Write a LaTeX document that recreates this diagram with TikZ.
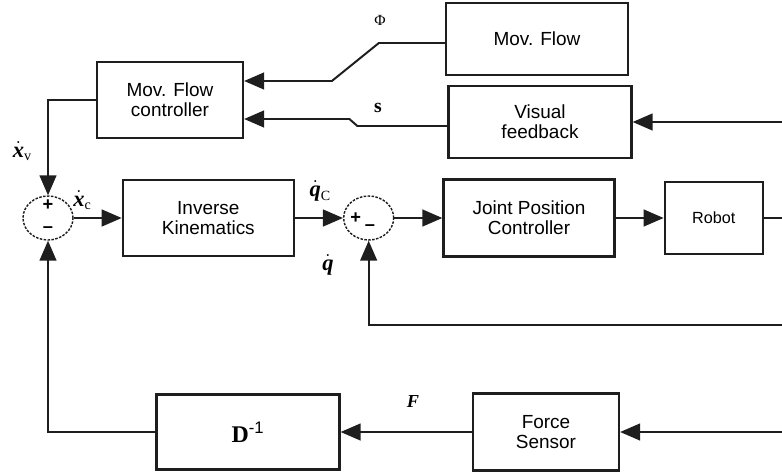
\documentclass[tikz,border=0pt]{standalone}
\usepackage{fontspec}
\setmainfont{Liberation Serif}
\setsansfont{Liberation Sans}
\usepackage{tikz}
\usetikzlibrary{arrows.meta,positioning,shapes.geometric}
\definecolor{ink}{RGB}{30,30,30}
\tikzset{
  blk/.style={draw=ink,line width=1.6pt,fill=white,inner sep=2pt,align=center,
    font=\sffamily\fontsize{13.5}{14.5}\selectfont},
  sumpt/.style={ellipse,draw=ink,line width=1pt,dash pattern=on 1.8pt off 1pt,
    minimum width=12.5mm,minimum height=11mm,inner sep=0pt},
  sgn/.style={inner sep=0pt,font=\sffamily\bfseries\fontsize{13}{13}\selectfont},
  arr/.style={-{Triangle[length=5mm,width=4.2mm]},line width=1.4pt,ink},
  wire/.style={line width=1.4pt,ink},
  sig/.style={inner sep=0pt,font=\bfseries\itshape\fontsize{16}{16}\selectfont},
}
% dotted signal name with an upright index
\newcommand{\dsig}[2]{$\dot{\mbox{#1}}$\raisebox{-0.35ex}{\mdseries\upshape\fontsize{10}{10}\selectfont #2}}

\begin{document}
\begin{tikzpicture}[x=0.25mm,y=-0.25mm,node distance=12mm]
  \useasboundingbox (0,0) rectangle (782,472);
  % main loop
  \node[sumpt] (s1) at (48,218) {};
  \node[blk,minimum width=42.75mm,minimum height=19mm,right=of s1] (ik) {Inverse\\Kinematics};
  \node[sumpt,right=of ik] (s2) {};
  \node[blk,minimum width=42.75mm,minimum height=19.25mm,right=of s2] (jpc) {Joint Position\\Controller};
  \node[blk,minimum width=24.5mm,minimum height=18mm,right=of jpc,
    font=\sffamily\fontsize{11.5}{13}\selectfont] (rob) {Robot};
  % visual branch
  \node[blk,minimum width=36.5mm,minimum height=19mm] (mfc) at (170,100) {Mov. Flow\\controller};
  \node[blk,minimum width=45.5mm,minimum height=18mm] (mf) at (537,39) {Mov. Flow};
  \node[blk,minimum width=45.75mm,minimum height=18mm] (vis) at (540,122) {Visual\\feedback};
  % force branch
  \node[blk,minimum width=45.75mm,minimum height=18.75mm] (dinv) at (248,432)
    {\rmfamily\bfseries\fontsize{17}{17}\selectfont D\textsuperscript{\sffamily\mdseries -1}};
  \node[blk,minimum width=36.5mm,minimum height=19.25mm] (fs) at (546,432) {Force\\Sensor};

  % signs in the summing points
  \node[sgn] (s1p) at ([yshift=3.25mm]s1.center) {+};
  \node[sgn] (s1m) at ([yshift=-3mm]s1.center) {\textendash};
  \node[sgn] (s2p) at ([xshift=-3.25mm]s2.center) {+};
  \node[sgn] (s2m) at ([xshift=0.3mm,yshift=-2.5mm]s2.center) {\textendash};

  % loose ends at the right margin
  \coordinate (outR) at (782,218);
  \coordinate (visIn) at (782,122);
  \coordinate (qFb) at (782,325);
  \coordinate (fIn) at (782,432);

  \draw[arr] (s1) -- (ik);
  \draw[arr] (ik) -- (s2);
  \draw[arr] (s2) -- (jpc);
  \draw[arr] (jpc) -- (rob);
  \draw[wire] (rob) -- (outR);
  \draw[arr] (qFb) -| (s2.south);
  \draw[arr] (visIn) -- (vis);
  \draw[arr] ([yshift=-1mm]mf.west) -- ++(-66,0) -- ++(-47,38) -- ([yshift=4.75mm]mfc.east);
  \draw[arr] ([yshift=-1mm]vis.west) -- ++(-90,0) -- ++(-8,-7) -- ([yshift=-4.75mm]mfc.east);
  \draw[arr] (mfc.west) -| (s1.north);
  \draw[arr] (fIn) -- (fs);
  \draw[arr] (fs) -- (dinv);
  \draw[arr] (dinv.west) -| (s1.south);

  % signal labels
  \node[sig] (xv) at (22,151) {\dsig{x}{v}};
  \node[sig] (xc) at (82,200) {\dsig{x}{c}};
  \node[sig] (qc) at (320,191) {\dsig{q}{C}};
  \node[sig] (qd) at (328,265) {$\dot{\mbox{q}}$};
  \node[sig,font=\bfseries\itshape\fontsize{13}{13}\selectfont] (fl) at (413,402) {F};
  \node[inner sep=0pt,font=\fontsize{11}{11}\selectfont] (phi) at (380,20) {Φ};
  \node[inner sep=0pt,font=\bfseries\fontsize{14}{14}\selectfont] (sl) at (378,108) {s};
\end{tikzpicture}
\end{document}
